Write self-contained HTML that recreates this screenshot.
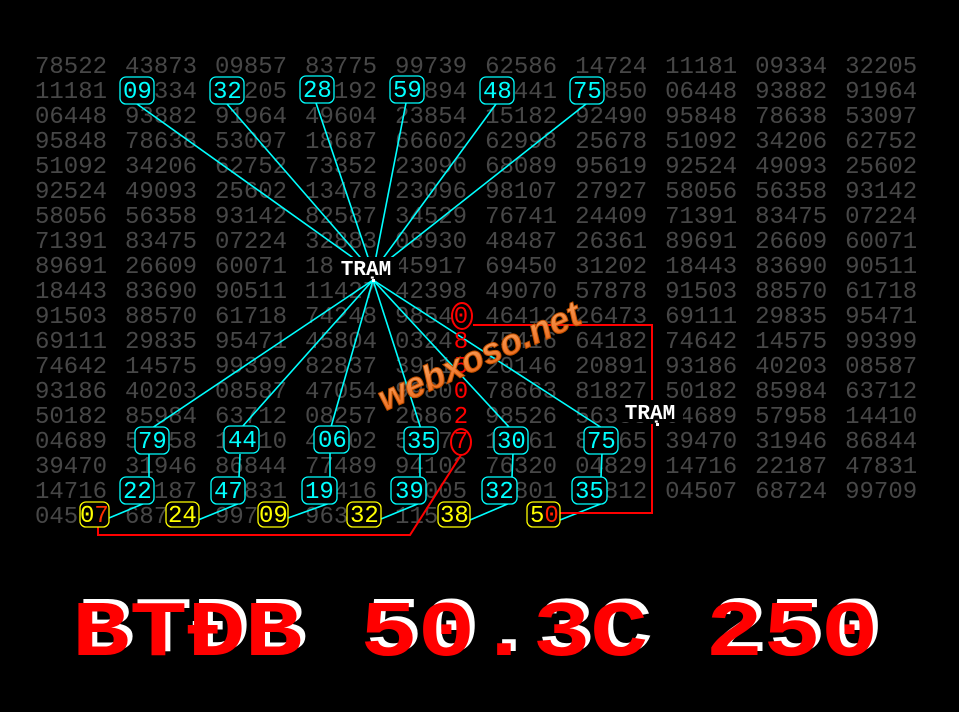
<!DOCTYPE html>
<html><head><meta charset="utf-8"><style>
html,body{margin:0;padding:0;background:#000;}
svg{display:block}
.g{font-family:"Liberation Mono",monospace;font-size:24px;fill:#474747;word-spacing:3.6px}
.c{font-family:"Liberation Mono",monospace;font-size:24px;fill:#00ffff;white-space:pre}
.y{font-family:"Liberation Mono",monospace;font-size:24px;fill:#ffff00;white-space:pre}
.r{font-family:"Liberation Mono",monospace;font-size:24px;fill:#ff0000}
.t{font-family:"Liberation Mono",monospace;font-size:21px;font-weight:bold;fill:#fff}
.big{font-family:"Liberation Mono",monospace;font-size:96px;font-weight:bold;white-space:pre}
</style></head><body>
<svg width="959" height="712" viewBox="0 0 959 712" xmlns="http://www.w3.org/2000/svg">
<rect width="959" height="712" fill="#000"/>
<g class="g">
<text x="35" y="73">78522 43873 09857 83775 99739 62586 14724 11181 09334 32205</text>
<text x="35" y="98">11181 09334 32205 28192 59894 48441 75850 06448 93882 91964</text>
<text x="35" y="123">06448 93882 91964 49604 23854 15182 92490 95848 78638 53097</text>
<text x="35" y="148">95848 78638 53097 18687 66602 62998 25678 51092 34206 62752</text>
<text x="35" y="173">51092 34206 62752 73352 23090 68089 95619 92524 49093 25602</text>
<text x="35" y="198">92524 49093 25602 13478 23096 98107 27927 58056 56358 93142</text>
<text x="35" y="223">58056 56358 93142 82587 34529 76741 24409 71391 83475 07224</text>
<text x="35" y="248">71391 83475 07224 32883 08930 48487 26361 89691 26609 60071</text>
<text x="35" y="273">89691 26609 60071 18443 45917 69450 31202 18443 83690 90511</text>
<text x="35" y="298">18443 83690 90511 11427 42398 49070 57878 91503 88570 61718</text>
<text x="35" y="323">91503 88570 61718 74248 98540 46412 26473 69111 29835 95471</text>
<text x="35" y="348">69111 29835 95471 45804 03248 75416 64182 74642 14575 99399</text>
<text x="35" y="373">74642 14575 99399 82837 39111 20146 20891 93186 40203 08587</text>
<text x="35" y="398">93186 40203 08587 47054 99800 78663 81827 50182 85984 63712</text>
<text x="35" y="423">50182 85984 63712 08257 26862 98526 56358 04689 57958 14410</text>
<text x="35" y="448">04689 57958 14410 40402 53577 13061 87865 39470 31946 86844</text>
<text x="35" y="473">39470 31946 86844 77489 94102 76320 04829 14716 22187 47831</text>
<text x="35" y="498">14716 22187 47831 19416 39005 32801 35812 04507 68724 99709</text>
<text x="35" y="523">04507 68724 99709 96332 11538</text>
</g>
<!-- black behind red column -->
<rect x="452" y="302" width="17" height="152" fill="#000"/>
<!-- cyan lines -->
<g stroke="#00ffff" stroke-width="1.6" fill="none">
<line x1="373" y1="272" x2="137" y2="104"/>
<line x1="373" y1="272" x2="227" y2="104"/>
<line x1="373" y1="272" x2="316" y2="103"/>
<line x1="373" y1="272" x2="406" y2="103"/>
<line x1="373" y1="272" x2="496" y2="104"/>
<line x1="373" y1="272" x2="586" y2="104"/>
<line x1="373" y1="280" x2="152" y2="428"/>
<line x1="373" y1="280" x2="242" y2="427"/>
<line x1="373" y1="280" x2="331" y2="427"/>
<line x1="373" y1="280" x2="421" y2="429"/>
<line x1="373" y1="280" x2="510" y2="428"/>
<line x1="373" y1="280" x2="602" y2="428"/>
<line x1="149" y1="454" x2="149" y2="477"/>
<line x1="240" y1="454" x2="239" y2="477"/>
<line x1="330" y1="453" x2="330" y2="477"/>
<line x1="420" y1="453" x2="420" y2="477"/>
<line x1="513" y1="453" x2="512" y2="477"/>
<line x1="602" y1="453" x2="601" y2="477"/>
<line x1="145" y1="503" x2="109" y2="518"/>
<line x1="240" y1="503" x2="198" y2="520"/>
<line x1="330" y1="503" x2="288" y2="518"/>
<line x1="420" y1="503" x2="381" y2="519"/>
<line x1="510" y1="503" x2="470" y2="520"/>
<line x1="603" y1="503" x2="560" y2="520"/>
</g>
<rect x="452" y="302" width="17" height="12" fill="#000"/>
<!-- red lines -->
<g stroke="#ff0000" stroke-width="2" fill="none">
<polyline points="473,325 652,325 652,400"/>
<polyline points="652,424 652,513 560,513"/>
<polyline points="461,455 410,535 98,535 98,527"/>
</g>
<!-- cyan boxes -->
<g stroke="#00ffff" stroke-width="1.3" fill="#000">
<rect x="120" y="77" width="34" height="27" rx="6"/>
<rect x="210" y="77" width="34" height="27" rx="6"/>
<rect x="300" y="76" width="34" height="27" rx="6"/>
<rect x="390" y="76" width="34" height="27" rx="6"/>
<rect x="480" y="77" width="34" height="27" rx="6"/>
<rect x="570" y="77" width="34" height="27" rx="6"/>
<rect x="135" y="427" width="34" height="27" rx="6"/>
<rect x="224" y="426" width="35" height="27" rx="6"/>
<rect x="314" y="426" width="35" height="27" rx="6"/>
<rect x="404" y="427" width="34" height="27" rx="6"/>
<rect x="494" y="427" width="34" height="27" rx="6"/>
<rect x="584" y="427" width="34" height="27" rx="6"/>
<rect x="120" y="477" width="34" height="27" rx="6"/>
<rect x="211" y="477" width="34" height="27" rx="6"/>
<rect x="302" y="477" width="35" height="27" rx="6"/>
<rect x="391" y="477" width="35" height="27" rx="6"/>
<rect x="482" y="477" width="35" height="27" rx="6"/>
<rect x="572" y="477" width="35" height="27" rx="6"/>
</g>
<g stroke="#ffff00" stroke-width="1.3" fill="#000">
<rect x="80" y="502" width="29" height="25" rx="6"/>
<rect x="166" y="502" width="33" height="25" rx="6"/>
<rect x="258" y="502" width="30" height="25" rx="6"/>
<rect x="347" y="502" width="34" height="25" rx="6"/>
<rect x="438" y="502" width="32" height="25" rx="6"/>
<rect x="527" y="502" width="33" height="25" rx="6"/>
</g>
<g class="c">
<text x="123" y="98">09</text><text x="213" y="98">32</text><text x="303" y="97">28</text>
<text x="393" y="97">59</text><text x="483" y="98">48</text><text x="573" y="98">75</text>
<text x="138" y="448">79</text><text x="228" y="447">44</text><text x="318" y="447">06</text>
<text x="407" y="448">35</text><text x="497" y="448">30</text><text x="587" y="448">75</text>
<text x="123" y="498">22</text><text x="214" y="498">47</text><text x="305" y="498">19</text>
<text x="395" y="498">39</text><text x="485" y="498">32</text><text x="575" y="498">35</text>
</g>
<g class="y">
<text x="80" y="522">0<tspan fill="#ff3000">7</tspan></text>
<text x="168" y="522">24</text><text x="259" y="522">09</text>
<text x="350" y="522">32</text><text x="440" y="522">38</text>
<text x="530" y="522">5<tspan fill="#ff2000">0</tspan></text>
</g>
<!-- red digit column -->
<g class="r" text-anchor="middle">
<text x="461" y="323">0</text><text x="461" y="348">8</text><text x="461" y="373">5</text>
<text x="461" y="398">0</text><text x="461" y="423">2</text><text x="461" y="448">7</text>
</g>
<ellipse cx="462" cy="316" rx="10" ry="13" fill="none" stroke="#ff0000" stroke-width="2"/>
<ellipse cx="461" cy="442" rx="10" ry="13" fill="none" stroke="#ff0000" stroke-width="2"/>
<!-- TRAM labels -->
<rect x="333" y="257" width="66" height="21" fill="#000"/>
<text class="t" x="366" y="275" text-anchor="middle">TRẠM</text>
<rect x="372" y="279" width="3" height="3" fill="#fff"/>
<rect x="617" y="401" width="66" height="21" fill="#000"/>
<text class="t" x="650" y="419" text-anchor="middle">TRẠM</text>
<rect x="656" y="423" width="3" height="3" fill="#fff"/>
<!-- watermark -->
<defs><linearGradient id="og" x1="0" y1="0" x2="0" y2="1"><stop offset="0" stop-color="#ffb070"/><stop offset="1" stop-color="#e86010"/></linearGradient></defs>
<text x="480" y="368" transform="rotate(-24 480 358)" text-anchor="middle" font-family="Liberation Sans, sans-serif" font-weight="bold" font-style="italic" font-size="36" fill="url(#og)" stroke="#c05000" stroke-width="1">webxoso.net</text>
<!-- title -->
<g transform="translate(0,655) scale(1,0.82)">
<text class="big" x="77" y="-5" fill="#fff">BTĐB 50.3C 250</text>
<text class="big" x="72" y="0" fill="#ff0000">BTĐB 50.3C 250</text>
</g>
</svg>
</body></html>
